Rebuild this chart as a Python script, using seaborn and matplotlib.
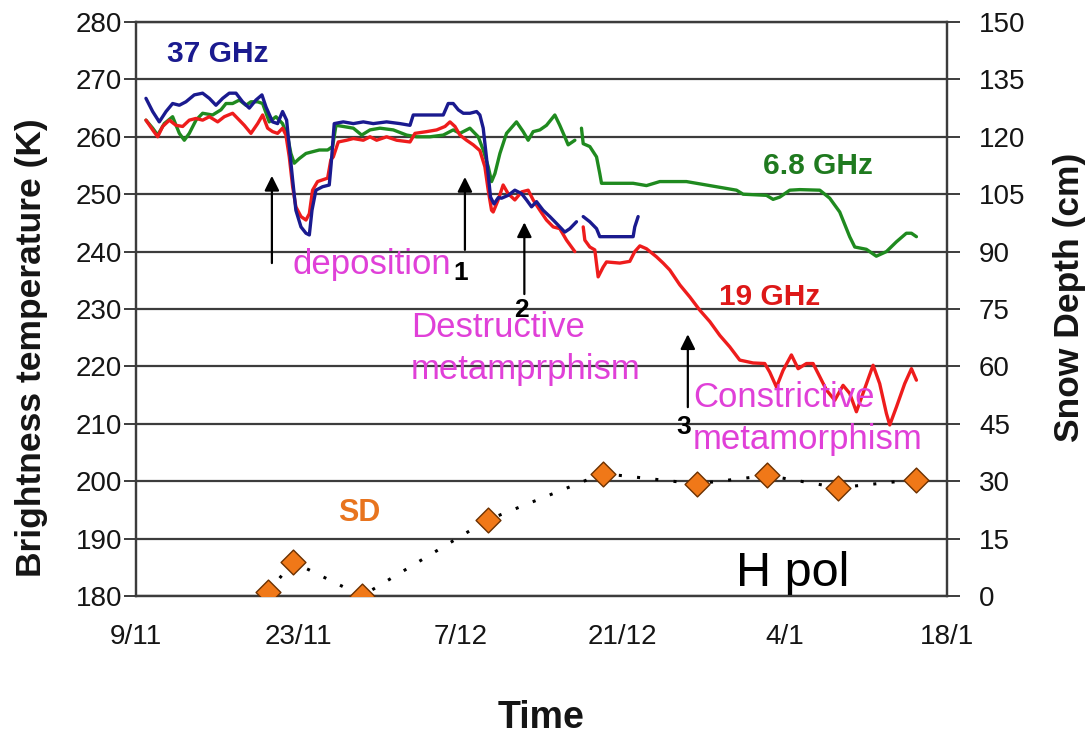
import numpy as np
import pandas as pd
import matplotlib
matplotlib.use("Agg")
import matplotlib.pyplot as plt
import seaborn as sns

# ---------------- data (days after 9 Nov, brightness temperature K) ----------------
base_date = pd.Timestamp("2005-11-09")

tb37_days_a = [0.86, 1.44, 2.01, 2.59, 3.16, 3.74, 4.31, 5.03, 5.75, 6.33, 6.90, 7.48, 8.05, 8.63,
               9.20, 9.78, 10.35, 10.87, 11.22, 11.79, 12.22, 12.65, 13.00, 13.23, 13.52, 13.80,
               14.24, 14.67, 14.96, 15.19, 15.53, 16.10, 16.68, 16.85, 17.11, 17.89, 18.76, 19.62,
               20.48, 21.63, 22.78, 23.65, 23.93, 25.08, 26.52, 26.95, 27.38, 27.82, 28.25, 28.82,
               29.40, 29.68, 29.97, 30.26, 30.60, 30.90, 31.27, 31.55, 32.12, 32.70, 33.28, 33.71,
               34.14, 34.57, 35.14, 35.72, 36.30, 37.01, 37.45, 38.02]
tb37_vals_a = [266.7, 264.4, 262.6, 264.4, 265.8, 265.5, 266.1, 267.3, 267.6, 266.7, 265.5, 266.7,
               267.6, 267.6, 266.1, 265.0, 266.4, 267.3, 265.2, 262.6, 262.3, 264.4, 262.9, 258.3,
               252.5, 247.2, 244.3, 243.2, 242.9, 247.2, 250.7, 251.3, 251.6, 255.4, 262.3, 262.6,
               262.3, 262.6, 262.3, 262.6, 262.3, 262.0, 263.8, 263.8, 263.8, 265.8, 265.8, 264.7,
               264.1, 264.1, 264.4, 263.8, 261.5, 256.2, 249.5, 248.3, 249.4, 249.3, 249.8, 250.7,
               250.1, 249.0, 247.8, 248.7, 247.2, 246.1, 244.9, 243.4, 244.0, 245.2]
tb37_days_b = [38.60, 39.17, 39.75, 40.03, 41.18, 42.33, 42.91, 43.05, 43.34]
tb37_vals_b = [246.1, 245.2, 244.0, 242.6, 242.6, 242.6, 242.6, 244.3, 246.1]

tb19_days_a = [0.86, 1.44, 1.87, 2.30, 2.88, 3.45, 4.03, 4.60, 5.18, 5.75, 6.33, 7.05, 7.62, 8.34,
               8.92, 9.35, 9.92, 10.50, 10.93, 11.36, 11.79, 12.22, 12.65, 12.94, 13.23, 13.52,
               13.80, 14.24, 14.67, 14.96, 15.24, 15.67, 16.54, 16.82, 17.03, 17.46, 18.18, 18.76,
               19.62, 20.20, 20.77, 21.63, 22.50, 23.65, 24.08, 25.08, 25.95, 26.67, 27.10, 27.53,
               27.96, 28.53, 29.11, 29.68, 30.11, 30.40, 30.69, 30.83, 31.26, 31.69, 32.12, 32.70,
               33.28, 33.85, 34.28, 34.86, 35.43, 36.01, 36.58, 37.16, 37.59, 37.88]
tb19_vals_a = [262.9, 261.2, 260.0, 261.8, 262.9, 262.0, 261.8, 262.9, 263.2, 262.9, 263.5, 262.6,
               263.5, 264.1, 262.9, 262.0, 260.6, 262.3, 263.8, 261.5, 260.9, 260.6, 261.5, 260.3,
               256.5, 251.3, 247.8, 246.1, 245.5, 246.6, 250.7, 252.2, 252.8, 256.0, 256.5, 259.1,
               259.4, 259.7, 259.4, 260.0, 259.4, 260.0, 259.4, 259.1, 260.6, 260.9, 261.2, 261.8,
               262.6, 261.8, 260.3, 259.4, 258.6, 257.6, 254.8, 250.7, 247.2, 246.9, 249.0, 251.6,
               250.1, 249.0, 250.4, 250.7, 249.0, 247.2, 245.5, 244.3, 244.0, 242.0, 240.8, 240.0]
tb19_days_b = [38.60, 38.74, 39.17, 39.60, 39.89, 40.32, 40.61, 41.76, 42.62, 43.05, 43.49, 44.06,
               44.92, 45.50, 46.07, 46.94, 47.80, 48.66, 49.53, 50.39, 51.25, 52.11, 53.26, 54.27,
               54.70, 55.28, 55.85, 56.57, 57.15, 57.87, 58.44, 59.02, 59.59, 60.31, 61.03, 61.60,
               62.18, 62.75, 63.62, 64.19, 64.77, 65.06, 65.63, 66.35, 66.93, 67.36]
tb19_vals_b = [244.3, 242.0, 240.8, 240.3, 235.6, 237.3, 238.2, 238.0, 238.3, 240.0, 241.0, 240.5,
               239.1, 238.0, 236.8, 234.2, 232.1, 229.8, 227.8, 225.4, 223.4, 221.1, 220.6, 220.5,
               219.0, 216.4, 219.3, 222.0, 219.6, 220.5, 220.5, 218.2, 215.9, 214.1, 216.7, 215.3,
               212.1, 215.3, 220.2, 217.0, 211.8, 209.8, 212.9, 217.0, 219.6, 217.6]

tb68_days_a = [0.86, 1.44, 1.87, 2.44, 3.16, 3.74, 4.17, 4.60, 5.18, 5.75, 6.61, 7.33, 7.77, 8.34,
               8.92, 9.49, 9.92, 10.50, 10.93, 11.50, 12.08, 12.65, 13.09, 13.37, 13.66, 14.09,
               14.67, 15.24, 15.82, 16.54, 16.97, 17.26, 17.89, 18.76, 19.48, 20.20, 21.06, 22.21,
               23.36, 24.22, 25.37, 26.52, 27.38, 27.96, 28.82, 29.54, 29.97, 30.40, 30.69, 30.98,
               31.41, 31.98, 32.84, 33.42, 33.85, 34.28, 34.86, 35.43, 36.15, 36.58, 37.01, 37.30,
               37.88]
tb68_vals_a = [262.9, 261.5, 260.3, 262.3, 263.5, 260.6, 259.4, 260.6, 262.9, 264.1, 263.8, 264.7,
               265.8, 265.8, 266.4, 265.5, 266.1, 266.1, 265.8, 262.6, 263.5, 262.3, 260.0, 257.1,
               255.4, 256.2, 257.1, 257.4, 257.7, 257.7, 258.3, 262.0, 261.8, 261.5, 260.3, 261.2,
               261.5, 261.2, 260.3, 260.0, 260.0, 260.3, 261.2, 260.6, 261.5, 260.0, 257.7, 254.8,
               252.2, 253.6, 257.1, 260.6, 262.6, 260.9, 259.4, 260.9, 261.2, 262.0, 263.8, 262.0,
               260.0, 258.6, 259.4]
tb68_days_b = [38.45, 38.60, 39.17, 39.75, 40.03, 40.18, 41.18, 42.91, 44.06, 45.21, 47.51, 49.24,
               51.83, 52.40, 54.42, 54.99, 55.57, 56.43, 57.29, 59.02, 59.88, 60.74, 61.60, 62.04,
               63.04, 63.90, 64.77, 65.63, 66.49, 66.93, 67.36]
tb68_vals_b = [261.5, 258.8, 258.3, 256.5, 253.6, 251.9, 251.9, 251.9, 251.5, 252.2, 252.2, 251.6,
               250.7, 250.0, 249.8, 249.1, 249.5, 250.7, 250.8, 250.7, 249.3, 246.9, 242.6, 240.8,
               240.4, 239.2, 240.0, 241.7, 243.2, 243.2, 242.6]

sd_days = [11.39, 13.55, 19.50, 30.37, 40.30, 48.40, 54.50, 60.60, 67.30]
sd_cm = [1.0, 8.9, 0.0, 19.9, 32.0, 29.3, 31.5, 28.3, 30.4]

xtick_days = [0, 14, 28, 42, 56, 70]
xtick_labels = ["9/11", "23/11", "7/12", "21/12", "4/1", "18/1"]
left_ticks = list(range(180, 281, 10))
right_ticks = list(range(0, 151, 15))

series_colors = {"37 GHz": "#1a1a8f", "19 GHz": "#ee1c1c", "6.8 GHz": "#1f8a1f"}

# arrows: (day, base value, tip value)
arrows = [(11.73, 238.0, 253.2), (28.39, 240.3, 253.0), (33.52, 232.6, 245.1), (47.63, 212.9, 225.6)]

# ---------------- build frames ----------------
def to_date(d):
    return base_date + pd.Timedelta(days=float(d))

def to_dates(days):
    return base_date + pd.to_timedelta(np.asarray(days, dtype=float), unit="D")

rows = []
for name, segs in [("37 GHz", [(tb37_days_a, tb37_vals_a), (tb37_days_b, tb37_vals_b)]),
                   ("19 GHz", [(tb19_days_a, tb19_vals_a), (tb19_days_b, tb19_vals_b)]),
                   ("6.8 GHz", [(tb68_days_a, tb68_vals_a), (tb68_days_b, tb68_vals_b)])]:
    for i, (d, v) in enumerate(segs):
        rows.append(pd.DataFrame({"date": to_dates(d), "tb": v, "series": name,
                                  "seg": f"{name}-{i}"}))
tb_df = pd.concat(rows, ignore_index=True)
sd_df = pd.DataFrame({"date": to_dates(sd_days), "sd": sd_cm})

# ---------------- plot ----------------
sns.set_theme(style="white")
plt.rcParams["font.family"] = ["Liberation Sans", "DejaVu Sans"]

W, H = 1088, 738
fig = plt.figure(figsize=(W / 100, H / 100), dpi=100)
ax = fig.add_axes([136 / W, 1 - 596 / H, (947 - 136) / W, (596 - 22) / H])

grid_c = "#3c3c3c"
txt_c = "#151515"
sns.lineplot(data=tb_df, x="date", y="tb", hue="series", units="seg", estimator=None,
             palette=series_colors, hue_order=["6.8 GHz", "19 GHz", "37 GHz"],
             linewidth=2.4, legend=False, ax=ax, sort=False, zorder=3)

ax.set_xlim(to_date(0), to_date(70))
ax.set_ylim(180, 280)
ax.set_yticks(left_ticks)
ax.set_xticks(to_dates(xtick_days))
ax.set_xticklabels(xtick_labels)
ax.yaxis.grid(True, color=grid_c, linewidth=1.6)
ax.set_axisbelow(True)
for s in ax.spines.values():
    s.set_color(grid_c)
    s.set_linewidth(1.6)
ax.tick_params(axis="both", direction="out", length=9, width=1.4, color=grid_c,
               labelsize=20, labelcolor=txt_c)
ax.tick_params(axis="x", pad=11)
ax.tick_params(axis="y", pad=1)
ax.set_xlabel("Time", fontsize=27, fontweight="bold", labelpad=36, color=txt_c)
ax.set_ylabel("Brightness temperature (K)", fontsize=25.5, fontweight="bold", color=txt_c)
ax.yaxis.set_label_coords(-0.108, 0.432)

ax2 = ax.twinx()
sns.lineplot(data=sd_df, x="date", y="sd", ax=ax2, color="black", linewidth=2.2,
             linestyle=(0, (1, 5)), zorder=2)
sns.scatterplot(data=sd_df, x="date", y="sd", ax=ax2, marker="D", s=160, color="#f07818",
                edgecolor="#6b3000", linewidth=1.0, zorder=4, legend=False)
ax2.set_ylim(0, 150)
ax2.set_yticks(right_ticks)
ax2.tick_params(axis="y", direction="out", length=9, width=1.4, color=grid_c,
                labelsize=20, labelcolor=txt_c, pad=14)
for s in ax2.spines.values():
    s.set_color(grid_c)
    s.set_linewidth(1.6)
ax2.set_ylabel("Snow Depth (cm)", fontsize=25.5, fontweight="bold", color=txt_c)
ax2.yaxis.set_label_coords(1.131, 0.521)
ax2.grid(False)

# text labels
mag = "#e040d8"
ax.text(to_date(7.07), 274.4, "37 GHz", color="#1a1a8f", fontsize=21.5, fontweight="bold",
        ha="center", va="center")
ax.text(to_date(58.84), 254.9, "6.8 GHz", color="#1f7a1f", fontsize=21.5, fontweight="bold",
        ha="center", va="center")
ax.text(to_date(54.7), 232.1, "19 GHz", color="#dd1818", fontsize=21.5, fontweight="bold",
        ha="center", va="center")
ax.text(to_date(19.24), 194.4, "SD", color="#e8741e", fontsize=22, fontweight="bold",
        ha="center", va="center")
ax.text(to_date(56.7), 184.0, "H pol", color="black", fontsize=35,
        ha="center", va="center")

ax.text(to_date(13.55), 237.8, "deposition", color=mag, fontsize=25, ha="left", va="center")
ax.text(to_date(23.73), 226.7, "Destructive", color=mag, fontsize=25, ha="left", va="center")
ax.text(to_date(23.73), 219.4, "metamprphism", color=mag, fontsize=25, ha="left", va="center")
ax.text(to_date(48.06), 214.5, "Constrictive", color=mag, fontsize=25, ha="left", va="center")
ax.text(to_date(48.06), 207.2, "metamorphism", color=mag, fontsize=25, ha="left", va="center")

for label, d, v in [("1", 28.04, 236.2), ("2", 33.3, 229.9), ("3", 47.28, 209.4)]:
    ax.text(to_date(d), v, label, color="black", fontsize=19, fontweight="bold",
            ha="center", va="center", zorder=5)

for d, v0, v1 in arrows:
    x = to_date(d)
    ax.annotate("", xy=(x, v1), xytext=(x, v0),
                arrowprops=dict(arrowstyle="-|>", color="black", lw=1.6, mutation_scale=22,
                                shrinkA=0, shrinkB=0), zorder=5)

fig.savefig("out.png", dpi=100)
